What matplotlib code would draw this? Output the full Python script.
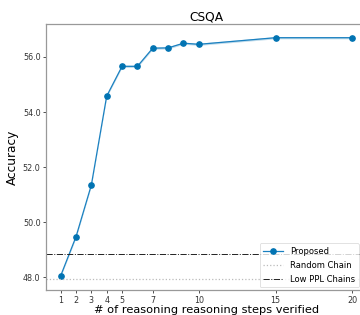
import matplotlib
matplotlib.use("Agg")
import matplotlib.pyplot as plt
import numpy as np

steps = [1, 2, 3, 4, 5, 6, 7, 8, 9, 10, 15, 20]
accuracy = [48.05, 49.47, 51.35, 54.58, 55.66, 55.66, 56.32, 56.33, 56.50, 56.46, 56.70, 56.70]
band = 0.04
random_chain = 47.95
low_ppl = 48.83
xticks = [1, 2, 3, 4, 5, 7, 10, 15, 20]
yticks = [48.0, 50.0, 52.0, 54.0, 56.0]


def main():
	fig = plt.figure(figsize=(3.6, 3.15), dpi=100)
	ax = fig.add_axes([0.128, 0.079, 0.891, 0.845])

	acc = np.array(accuracy)
	ax.fill_between(steps, acc - band, acc + band, color="#0173b2", alpha=0.25, lw=0)
	ax.plot(steps, accuracy, color="#1a80c0", lw=0.9, marker="o", ms=3.8,
		mfc="#0173b2", mec="#0173b2", label="Proposed")
	ax.plot([0.05, 20.95], [random_chain, random_chain], color="#bbbbbb", lw=0.9,
		ls=":", label="Random Chain")
	ax.plot([0.05, 20.95], [low_ppl, low_ppl], color="#222222", lw=0.7,
		ls="-.", label="Low PPL Chains")

	ax.set_xlim(0.05, 20.95)
	ax.set_ylim(47.53, 57.2)
	ax.set_xticks(xticks)
	ax.set_yticks(yticks)
	ax.set_yticklabels(["%.1f" % v for v in yticks])
	ax.tick_params(labelsize=5.8, colors="#333333", length=2.5, width=0.6, pad=1.5)
	for s in ["left", "bottom", "top", "right"]:
		ax.spines[s].set_color("#999999")
		ax.spines[s].set_linewidth(0.9)

	ax.set_title("CSQA", fontsize=8.8, pad=2)
	ax.set_xlabel("# of reasoning reasoning steps verified", fontsize=8.2, labelpad=0.5)
	ax.set_ylabel("Accuracy", fontsize=8.7, labelpad=3)

	leg = ax.legend(loc="lower right", fontsize=6, bbox_to_anchor=(0.975, 0.01),
		borderaxespad=0, framealpha=0.8, borderpad=0.45, labelspacing=0.6,
		handlelength=2.4)
	leg.get_frame().set_linewidth(0.5)

	fig.savefig("out.png", dpi=100)


if __name__ == '__main__':
	main()
